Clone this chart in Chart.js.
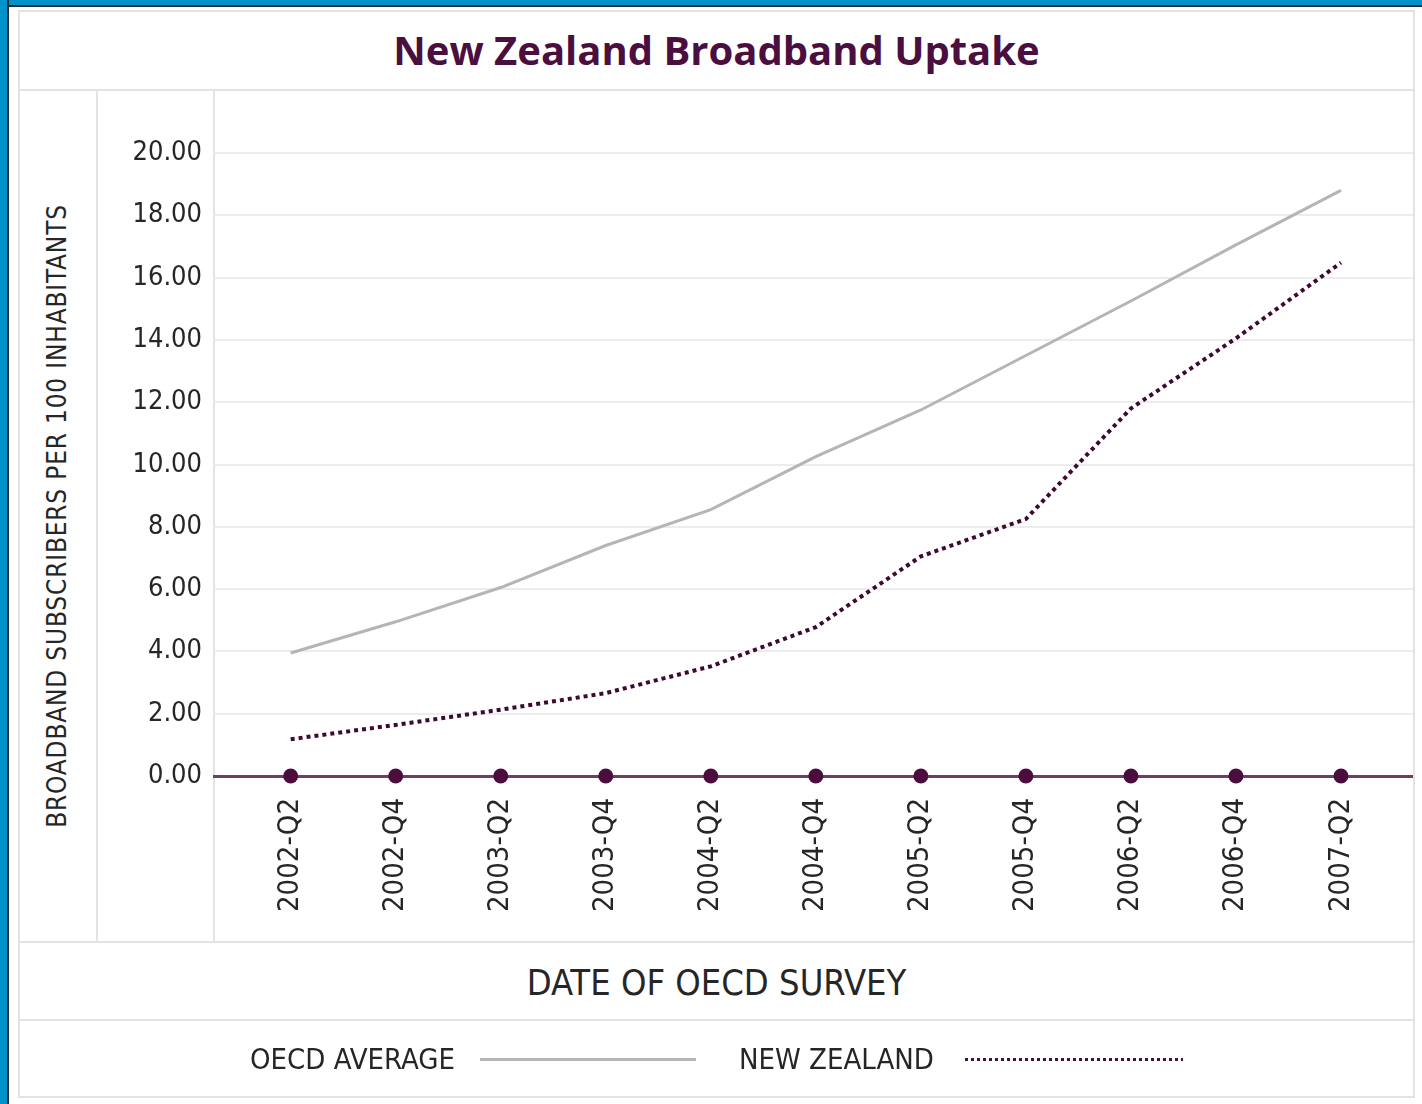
<!DOCTYPE html>
<html>
<head>
<meta charset="utf-8">
<script src="https://cdn.jsdelivr.net/npm/chart.js@4/dist/chart.umd.min.js"></script>
<style>
  html, body { margin: 0; padding: 0; background: #fff; }
  body { width: 1422px; height: 1104px; position: relative; overflow: hidden;
         font-family: "DejaVu Sans Condensed", "DejaVu Sans", sans-serif; color: #262626; }
  .abs { position: absolute; }
  #blueTop { left: 0; top: 0; width: 1422px; height: 5px; background: #0092c8; border-bottom: 2px solid #1a2a3a; }
  #blueLeft { left: 0; top: 0; width: 7px; height: 1104px; background: #0092c8; border-right: 2px solid #1a2a3a; }
  #frame { left: 18px; top: 10px; width: 1397px; height: 1088px; border: 2px solid #e3e3e3; box-sizing: border-box; z-index: 2; }
  .hline { height: 2px; background: #e3e3e3; left: 18px; width: 1397px; }
  .vline { width: 2px; background: #e3e3e3; top: 90px; height: 852px; }
  #titulo { left: 18px; top: 10px; width: 1397px; height: 80px; line-height: 80px; text-align: center;
            font-family: "Open Sans", sans-serif; font-weight: 700; font-size: 40px; color: #4b0f3f; }
  #tituloY { left: 57px; top: 516px; transform: translate(-50%, -50%) rotate(-90deg); white-space: nowrap;
             font-size: 26px; letter-spacing: 0.8px; }
  #tituloX { left: 18px; top: 942px; width: 1397px; height: 78px; line-height: 82px; text-align: center; font-size: 36px; }
  #leyenda { left: 18px; top: 1020px; width: 1397px; height: 78px; display: flex; align-items: center; justify-content: center; font-size: 29px; }
  #leyenda .muestra { height: 3px; }
  #leyenda .muestra.gris { width: 216px; background: #b5b5b5; margin: 0 43px 0 25px; }
  #leyenda .muestra.puntos { width: 218px; margin-left: 31px; background: repeating-linear-gradient(90deg, #4b0d3e 0 3px, transparent 3px 6px); }
  #grafico { left: 97px; top: 90px; }
</style>
</head>
<body>
<div id="blueTop" class="abs"></div>
<div id="blueLeft" class="abs"></div>
<div id="frame" class="abs"></div>
<div class="abs hline" style="top:89px"></div>
<div class="abs hline" style="top:941px"></div>
<div class="abs hline" style="top:1019px"></div>
<div class="abs vline" style="left:96px"></div>
<div class="abs vline" style="left:213px"></div>
<div id="titulo" class="abs">New Zealand Broadband Uptake</div>
<div id="tituloY" class="abs">BROADBAND SUBSCRIBERS PER 100 INHABITANTS</div>
<canvas id="grafico" class="abs" width="1325" height="852"></canvas>
<div id="tituloX" class="abs">DATE OF OECD SURVEY</div>
<div id="leyenda" class="abs">
  <span>OECD AVERAGE</span><span class="muestra gris"></span>
  <span>NEW ZEALAND</span><span class="muestra puntos"></span>
</div>

<script>
// trimestres de la encuesta OCDE
const trimestres = ["2002-Q2", "2002-Q4", "2003-Q2", "2003-Q4", "2004-Q2", "2004-Q4",
                    "2005-Q2", "2005-Q4", "2006-Q2", "2006-Q4", "2007-Q2"];

// suscriptores por cada 100 habitantes
const promedioOCDE = [3.95, 4.95, 6.05, 7.4, 8.55, 10.25, 11.75, 13.5, 15.25, 17.05, 18.8];
const nuevaZelanda = [1.18, 1.64, 2.13, 2.66, 3.52, 4.78, 7.05, 8.25, 11.8, 14.05, 16.48];
const marcadores = [0, 0, 0, 0, 0, 0, 0, 0, 0, 0, 0];

const ticksY = [0, 2, 4, 6, 8, 10, 12, 14, 16, 18, 20];

addEventListener("DOMContentLoaded", function () {
    generarGrafico();
});

function aPuntos(valores) {
    return valores.map((v, i) => ({ x: i, y: v }));
}

function generarGrafico() {
    const fuente = "'DejaVu Sans Condensed', 'DejaVu Sans', sans-serif";

    new Chart("grafico", {
        type: "line",
        data: {
            datasets: [
                {
                    label: "OECD AVERAGE",
                    data: aPuntos(promedioOCDE),
                    borderColor: "#b5b5b5",
                    borderWidth: 3,
                    pointRadius: 0,
                    tension: 0
                },
                {
                    label: "NEW ZEALAND",
                    data: aPuntos(nuevaZelanda),
                    borderColor: "#3e0a32",
                    borderWidth: 4,
                    borderDash: [4, 4],
                    pointRadius: 0,
                    tension: 0
                },
                {
                    label: "marcadores",
                    data: aPuntos(marcadores),
                    showLine: false,
                    pointRadius: 7.5,
                    pointBorderWidth: 0,
                    pointBackgroundColor: "#4b0d3e",
                    clip: false
                }
            ]
        },
        options: {
            responsive: false,
            animation: false,
            layout: { padding: { top: 63, right: 0, bottom: 0, left: 0 } },
            plugins: {
                legend: { display: false },
                tooltip: { enabled: false },
                title: { display: false }
            },
            scales: {
                x: {
                    type: "linear",
                    min: -0.73,
                    max: 10.7,
                    afterBuildTicks: (scale) => { scale.ticks = trimestres.map((_, i) => ({ value: i })); },
                    afterFit: (scale) => { scale.height = 166; },
                    grid: { display: false },
                    border: { display: true, color: "#6e3f62", width: 3 },
                    ticks: {
                        callback: (value) => trimestres[value],
                        minRotation: 90,
                        maxRotation: 90,
                        padding: 14,
                        color: "#262626",
                        font: { family: fuente, size: 29 }
                    }
                },
                y: {
                    min: 0,
                    max: 20,
                    afterBuildTicks: (scale) => { scale.ticks = ticksY.map(v => ({ value: v })); },
                    afterFit: (scale) => { scale.width = 117; },
                    grid: { color: "#ececec", lineWidth: 2, drawTicks: false },
                    border: { display: false },
                    ticks: {
                        callback: (value) => value.toFixed(2),
                        padding: 12,
                        color: "#262626",
                        font: { family: fuente, size: 27 }
                    }
                }
            }
        }
    });
}
</script>
</body>
</html>
